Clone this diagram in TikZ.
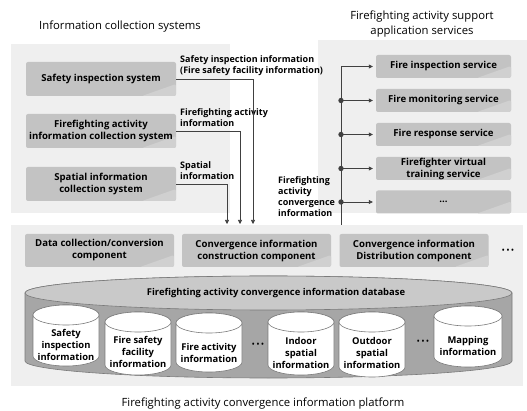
\documentclass[tikz,border=0pt]{standalone}
\usepackage{fontspec}
\setmainfont{Open Sans}
\usetikzlibrary{arrows.meta,calc}
\definecolor{panel}{HTML}{EFEFEF}
\definecolor{boxfill}{HTML}{C3C3C3}
\definecolor{boxlight}{HTML}{D0D0D0}
\definecolor{lineclr}{HTML}{404040}
\definecolor{dbbody}{HTML}{A6A6A6}
\definecolor{dbtop}{HTML}{C9C9C9}
\definecolor{cylline}{HTML}{7A7A7A}
\newcommand\dbcyl[7]{%
  \filldraw[draw=cylline, fill=#6, line width=0.6pt]
    (#1-#4, -#2-#5) -- (#1-#4, -#3+#5)
    arc[start angle=180, end angle=360, x radius=#4pt, y radius=#5pt]
    -- (#1+#4, -#2-#5)
    arc[start angle=0, end angle=180, x radius=#4pt, y radius=#5pt] -- cycle;
  \filldraw[draw=cylline, fill=#7, line width=0.6pt]
    (#1, -#2-#5) ellipse [x radius=#4pt, y radius=#5pt];
}
\newcommand\bigdots{•\hspace{1.2pt}•\hspace{1.2pt}•}
\begin{document}
\begin{tikzpicture}[x=1pt,y=1pt,
  box/.style={fill=boxfill, rounded corners=2pt, inner sep=0pt, align=center,
    font=\bfseries\fontsize{9.6}{12}\selectfont,
    path picture={\fill[boxlight] (path picture bounding box.south east) -- ++(-34pt,0)
      -- ([yshift=12pt]path picture bounding box.south east) -- cycle;}},
  lbox/.style={box, minimum width=150pt, minimum height=34pt},
  sbox/.style={box, minimum width=135pt, minimum height=23pt},
  cbox/.style={box, minimum width=149pt, minimum height=33pt},
  lbl/.style={anchor=west, align=left, inner sep=0pt, font=\bfseries\fontsize{9}{11}\selectfont},
  ctext/.style={align=center, inner sep=0pt, font=\bfseries\fontsize{9.4}{11.6}\selectfont},
  dots/.style={inner sep=0pt, font=\fontsize{9}{10}\selectfont},
  title/.style={align=center, inner sep=0pt, font=\fontsize{11.3}{15}\selectfont},
  conn/.style={draw=lineclr, line width=0.6pt},
  arr/.style={conn, -{Triangle[length=4pt,width=4pt]}},
  dot/.style={fill=lineclr}
]
\useasboundingbox (0,0) rectangle (527,-411);
% panels
\fill[panel] (11,-44) rectangle (230,-213);
\fill[panel] (318,-40) rectangle (527,-213);
\fill[panel] (11,-225) rectangle (523,-386);

% titles
\node[title] (t1) at (120,-27) {Information collection systems};
\node[title] (t2) at (422,-24.5) {Firefighting activity support\\application services};
\node[title] (t3) at (263,-404) {Firefighting activity convergence information platform};

% left boxes
\node[lbox] (A) at (101,-79) {Safety inspection system};
\node[lbox] (B) at (101,-131) {Firefighting activity\\information collection system};
\node[lbox] (C) at (101,-184) {Spatial information\\collection system};

% labels
\node[lbl] (la) at (180,-65.5) {Safety inspection information\\(Fire safety facility information)};
\node[lbl] (lb) at (180,-117.5) {Firefighting activity\\information};
\node[lbl] (lc) at (180,-170.5) {Spatial\\information};
\node[lbl] (ld) at (278,-197) {Firefighting\\activity\\convergence\\information};

% services
\node[sbox] (S1) at (443.5,-66.5) {Fire inspection service};
\node[sbox] (S2) at (443.5,-100.5) {Fire monitoring service};
\node[sbox] (S3) at (443.5,-134.5) {Fire response service};
\node[sbox] (S4) at (443.5,-168.5) {Firefighter virtual\\training service};
\node[sbox] (S5) at (443.5,-202) {...};

% components
\node[cbox] (K1) at (99.5,-250.5) {Data collection/conversion\\component};
\node[cbox] (K2) at (256.5,-250.5) {Convergence information\\construction component};
\node[cbox] (K3) at (414,-250.5) {Convergence information\\Distribution component};
\node[dots] (K4) at (508,-251) {\bigdots};

% connectors into platform
\coordinate (e1) at (253,-224);
\coordinate (e2) at (240,-224);
\coordinate (e3) at (227,-224);
\draw[arr] (A.east) -| (e1);
\draw[arr] (B.east) -| (e2);
\draw[arr] (C.east) -| (e3);

% distribution to services
\coordinate (vb) at (341,-225);
\draw[arr, shorten >=3pt] (vb) |- (S1.west);
\foreach \s in {S2,S3,S4,S5}{
  \draw[arr, shorten >=3pt] (vb |- \s.west) -- (\s.west);
  \fill[dot] (vb |- \s.west) circle (2.7pt);
}

% database cylinder
\dbcyl{268.5}{276}{378}{243.5}{17}{dbbody}{dbtop}
\node[ctext] (dbt) at (276,-293) {Firefighting activity convergence information database};

% small cylinders
\dbcyl{66}{305}{366}{33}{10}{white}{white}
\dbcyl{138}{312}{375}{33}{10}{white}{white}
\dbcyl{209}{313}{372}{33}{10}{white}{white}
\dbcyl{301}{312}{375}{33}{10}{white}{white}
\dbcyl{372}{312}{377}{33}{10}{white}{white}
\dbcyl{468}{306}{367}{34}{10}{white}{white}
\node[ctext] (d1) at (66,-345) {Safety\\inspection\\information};
\node[ctext] (d2) at (138,-352) {Fire safety\\facility\\information};
\node[ctext] (d3) at (209,-353) {Fire activity\\information};
\node[dots] (d4) at (258,-345) {\bigdots};
\node[ctext] (d5) at (301,-353) {Indoor\\spatial\\information};
\node[ctext] (d6) at (372,-353) {Outdoor\\spatial\\information};
\node[dots] (d7) at (423,-342) {\bigdots};
\node[ctext] (d8) at (468,-346) {Mapping\\information};
\end{tikzpicture}
\end{document}
